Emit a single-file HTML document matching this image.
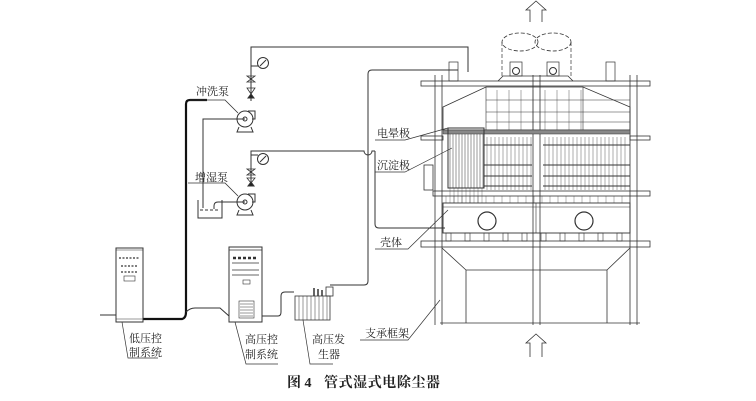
<!DOCTYPE html>
<html><head><meta charset="utf-8"><style>
html,body{margin:0;padding:0;background:#fff;width:756px;height:401px;overflow:hidden}
svg{display:block}
text{font-family:"Liberation Serif","Noto Serif CJK SC","Noto Sans CJK SC",serif;fill:#222}
</style></head><body>
<svg width="756" height="401" viewBox="0 0 756 401" xmlns="http://www.w3.org/2000/svg" fill="none" stroke="#333" stroke-width="1">
<g id="g"></g>
<path d="M100,315 H116"/>
<path d="M143,319 H182 Q186,318 186,312 V104 Q186,100 190,100 H207" stroke="#111" stroke-width="2.2"/>
<path d="M190,100 H225 L238,113" stroke-width="0.8"/>
<path d="M188,183 H225 L238,196" stroke-width="0.8"/>
<path d="M186,312 Q190,308 195,308 H220 L229,316"/>
<path d="M262,316 H278 Q281,316 281,312 V296 Q281,292 285,292 H294"/>
<path d="M251,101 V47 H468 V72"/>
<path d="M330,285 H364 Q368,285 368,281 V74 Q368,70 372,70 H458"/>
<path d="M251,185 V151 H364 A4,4 0 0 0 372,151 H375"/>
<path d="M375,151 V224 Q375,228 379,228 H445"/>
<circle cx="245" cy="119" r="8"/><circle cx="245" cy="119" r="2"/>
<path d="M248,111 H255 V119 H252"/><path d="M239,127 L237,132 H253 L251,127"/>
<path d="M245,119 H203 V208"/>
<path d="M251,66 H258"/><circle cx="263" cy="63" r="5.5"/><path d="M260,66 L266,60"/>
<path d="M247,76 L255,82 L247,82 L255,76 Z M247,88 H255 L251,94 Z" stroke-width="0.8"/>
<path d="M248,98 H254 L251,94 Z" fill="#222"/>
<circle cx="245" cy="202" r="8"/><circle cx="245" cy="202" r="2"/>
<path d="M248,194 H255 V202 H252"/><path d="M239,210 L237,215 H253 L251,210"/>
<path d="M245,202 H218 Q214,202 214,206 V209"/>
<path d="M198,200 V218 H222 V200"/><path d="M200,210 H220" stroke-dasharray="3,2"/>
<path d="M251,155 H258"/><circle cx="263" cy="159" r="5.5"/><path d="M260,162 L266,156"/>
<path d="M247,169 L255,175 L247,175 L255,169 Z M247,178 H255 L251,183 Z" stroke-width="0.8"/>
<path d="M248,186 H254 L251,182 Z" fill="#222"/>
<rect x="116" y="248" width="27" height="74"/><path d="M116,250 H143 M116,319 H143" stroke-width="0.6"/>
<path d="M119,258 H140 M121,266 H138 M121,272 H138" stroke-dasharray="2,1.5" stroke-width="1.2"/>
<rect x="124" y="276" width="11" height="5" stroke-width="0.6"/>
<rect x="229" y="247" width="33" height="75"/><path d="M229,250 H262 M232,263 H259 M232,270 H259 M232,275 H259" stroke-width="0.7"/>
<path d="M233,258 H258" stroke-dasharray="3,2" stroke-width="2.5"/>
<rect x="243" y="280" width="7" height="4" stroke-width="0.6"/>
<rect x="239" y="301" width="15" height="17" stroke-width="0.6"/>
<path d="M240,304 H253 M240,307 H253 M240,310 H253 M240,313 H253 M240,316 H253" stroke-width="0.6"/>
<rect x="295" y="296" width="35" height="24" stroke-width="0.8"/>
<path d="M299,296 V320 M303,296 V320 M307,296 V320 M311,296 V320 M315,296 V320 M319,296 V320 M323,296 V320 M327,296 V320" stroke-width="0.5"/>
<path d="M314,296 V288 M318,296 V289 M322,296 V290" stroke-width="1.5"/>
<rect x="326" y="287" width="7" height="9" stroke-width="0.8"/>
<path d="M435,75 V325 M442,75 V325 M630,75 V325 M637,75 V325 M533,75 V325 M540,75 V325" stroke-width="0.8"/>
<rect x="421" y="81" width="229" height="5" stroke-width="0.8"/>
<rect x="421" y="136" width="22" height="4" stroke-width="0.8"/>
<rect x="630" y="136" width="20" height="4" stroke-width="0.8"/>
<rect x="433" y="191" width="217" height="5" stroke-width="0.8"/>
<rect x="421" y="241" width="229" height="6" stroke-width="0.8"/>
<path d="M440,323 H640" stroke-width="0.8"/>
<ellipse cx="520" cy="42" rx="18" ry="9" stroke-dasharray="4,2" stroke-width="0.8"/>
<ellipse cx="553" cy="42" rx="18" ry="9" stroke-dasharray="4,2" stroke-width="0.8"/>
<path d="M502,42 V77 M571,42 V77" stroke-dasharray="4,2" stroke-width="0.7"/>
<path d="M498,81 L503,76 H568 L573,81" stroke-width="0.8"/>
<rect x="510" y="62" width="12" height="14" stroke-width="0.7"/><circle cx="516" cy="71" r="3.5"/>
<rect x="547" y="62" width="12" height="14" stroke-width="0.7"/><circle cx="553" cy="71" r="3.5"/>
<rect x="449" y="62" width="9" height="19" stroke-width="0.7"/>
<rect x="606" y="62" width="9" height="19" stroke-width="0.7"/>
<path d="M530,22 V10 H526 L536,1 L546,10 H542 V22" stroke-width="0.8"/>
<path d="M530,357 V343 H526 L536,334 L546,343 H542 V357" stroke-width="0.8"/>
<path d="M443,107 L486,87 H583 L630,107 V130 H443 Z" stroke-width="0.8"/>
<path d="M486,87 V130 M583,87 V130" stroke-width="0.6"/>
<rect x="443" y="130" width="187" height="4" fill="#888" stroke-width="0.5"/>
<rect x="448" y="128" width="36" height="60" stroke-width="1"/>
<rect x="443" y="203" width="187" height="30" stroke-width="0.9"/>
<path d="M443,207 H630 M536,203 V233" stroke-width="0.6"/>
<circle cx="487" cy="221" r="9" stroke-width="1.2"/><circle cx="584" cy="221" r="9" stroke-width="1.2"/>
<path d="M442,248 L466,270 V323 M630,248 L607,270 V323 M466,270 H607" stroke-width="0.8"/>
<rect x="424" y="165" width="9" height="25" stroke-width="0.8"/>
<path d="M375,140 H405 L448,128" stroke-width="0.7"/>
<path d="M375,172 H405 L452,148" stroke-width="0.7"/>
<path d="M375,249 H408 L448,210" stroke-width="0.7"/>
<path d="M360,340 H408 L440,300" stroke-width="0.7"/>
<path d="M122,322 L128,358 H158 M235,322 L246,364 H278 M303,320 L310,364 H333" stroke-width="0.7"/>
<g stroke="none" font-size="11">
<text x="196" y="95">冲洗泵</text>
<text x="195" y="181">增湿泵</text>
<text x="377" y="137">电晕极</text>
<text x="377" y="169">沉淀极</text>
<text x="380" y="246">壳体</text>
<text x="365" y="337">支承框架</text>
<text x="129" y="342">低压控</text>
<text x="129" y="356">制系统</text>
<text x="245" y="343">高压控</text>
<text x="245" y="358">制系统</text>
<text x="312" y="343">高压发</text>
<text x="318" y="358">生器</text>
</g>
<g stroke="none" font-size="14" font-weight="bold" style="font-family:'Liberation Sans','Noto Sans CJK SC',sans-serif">
<text x="287" y="387">图 4</text>
<text x="324" y="387" textLength="116">管式湿式电除尘器</text>
</g>
</svg>
<script>
var g=document.getElementById('g'),s='';
function L(x1,y1,x2,y2,w){s+='<line x1="'+x1+'" y1="'+y1+'" x2="'+x2+'" y2="'+y2+'" stroke-width="'+(w||0.5)+'"/>';}
for(var x=450;x<484;x+=3)L(x,130,x,188,0.5);
for(var x=450;x<484;x+=4)L(x,188,x,203,0.35);
for(var x=487;x<532;x+=4)L(x,137,x,190,0.4);
for(var x=545;x<629;x+=4)L(x,137,x,190,0.4);
[145,165,176,186].forEach(function(y){L(484,y,532,y,0.9);L(543,y,630,y,0.9);});
for(var x=497;x<583;x+=12)L(x,90,x,130,0.4);
[100,112,122].forEach(function(y){L(486,y,630,y,0.5);});
for(var x=446;x<630;x+=19){s+='<rect x="'+x+'" y="233" width="5" height="8" stroke-width="0.6"/>';}
for(var x=446;x<630;x+=8)L(x,196,x,203,0.35);
g.innerHTML=s;
</script>
</body></html>
